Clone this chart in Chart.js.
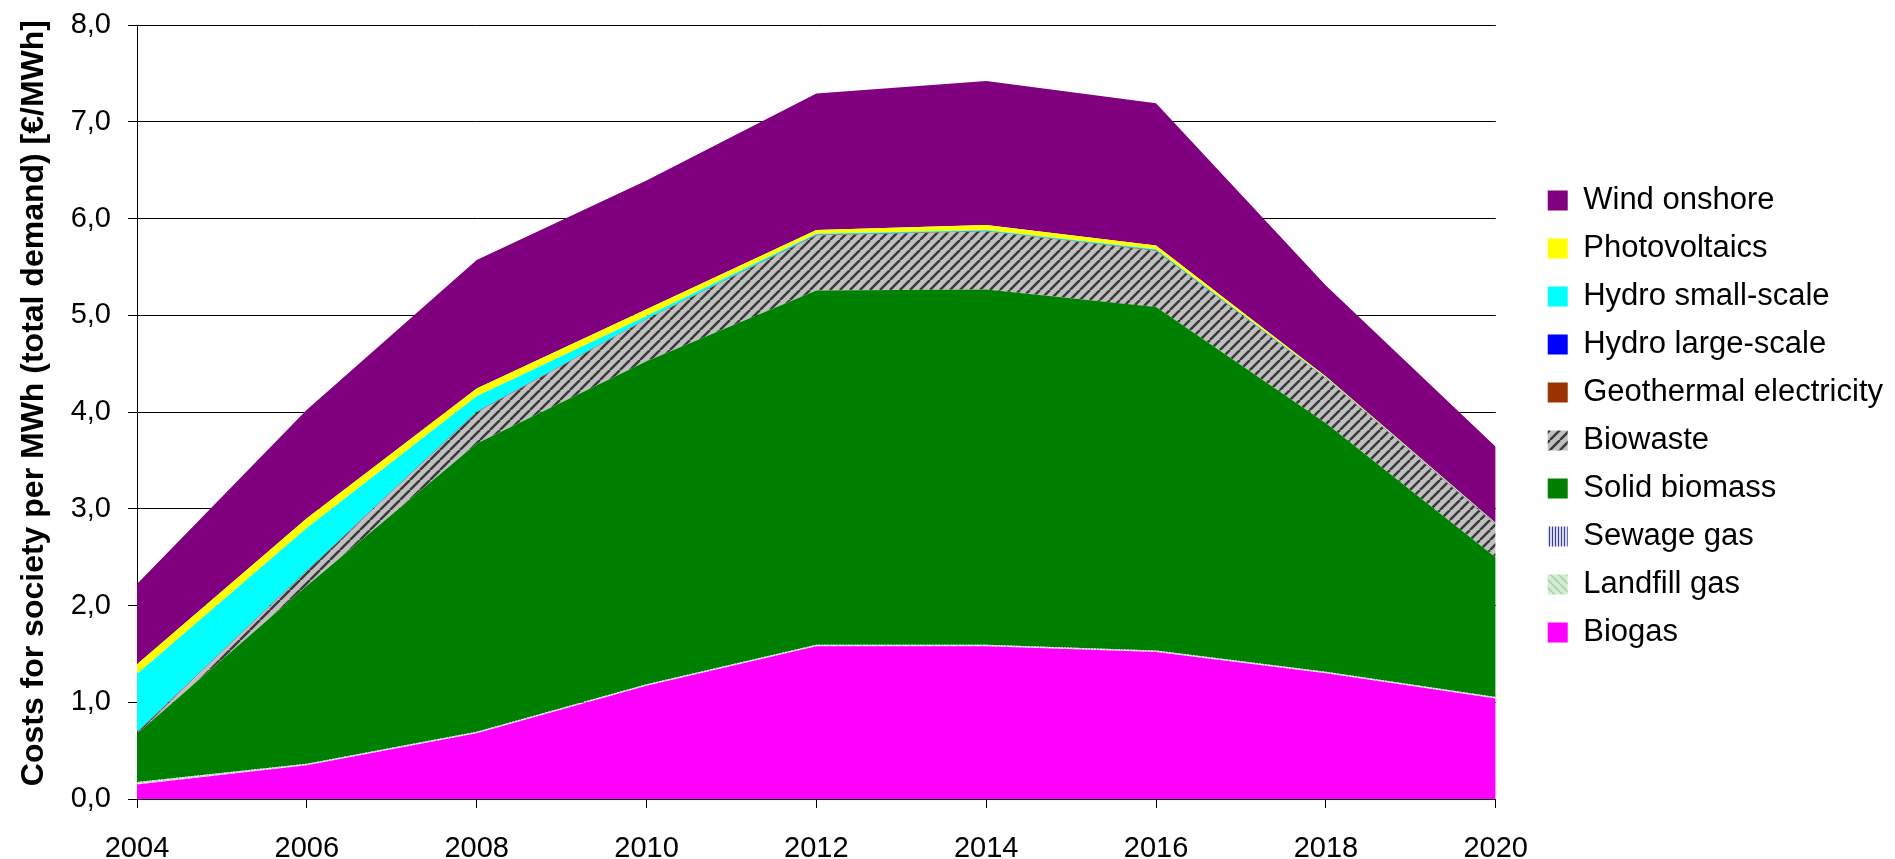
<!DOCTYPE html>
<html>
<head>
<meta charset="utf-8">
<script src="https://cdn.jsdelivr.net/npm/chart.js@4.4.0/dist/chart.umd.min.js"></script>
<style>
  body { margin: 0; background: #fff; }
</style>
</head>
<body>
<canvas id="myChart" width="1895" height="859"></canvas>
<script>
// Years on the x axis
var years = ['2004', '2006', '2008', '2010', '2012', '2014', '2016', '2018', '2020'];

// Values per technology (not cumulative)
var biogas       = [0.15, 0.35, 0.68, 1.17, 1.58, 1.58, 1.52, 1.30, 1.04];
var landfillGas  = [0.02, 0.01, 0.01, 0.01, 0.01, 0.01, 0.01, 0.01, 0.01];
var sewageGas    = [0.005, 0.005, 0.005, 0.005, 0.005, 0.005, 0.005, 0.005, 0.005];
var solidBiomass = [0.50, 1.84, 2.98, 3.34, 3.66, 3.67, 3.55, 2.57, 1.44];
var biowaste     = [0.01, 0.15, 0.32, 0.43, 0.57, 0.60, 0.58, 0.46, 0.34];
var geothermal   = [0.005, 0.005, 0.005, 0.005, 0.005, 0.005, 0.005, 0.005, 0.005];
var hydroLarge   = [0.002, 0.002, 0.002, 0.002, 0.002, 0.002, 0.002, 0.002, 0.002];
var hydroSmall   = [0.60, 0.44, 0.16, 0.03, 0.01, 0.01, 0.01, 0.005, 0.005];
var photovoltaic = [0.10, 0.10, 0.08, 0.07, 0.04, 0.05, 0.04, 0.01, 0.005];
var windOnshore  = [0.83, 1.12, 1.33, 1.33, 1.41, 1.49, 1.47, 0.94, 0.79];

var yTicks = [0, 1, 2, 3, 4, 5, 6, 7, 8];

// small striped patterns for the hatched series
function makeStripes(size, bg, fg, width, kind) {
  var c = document.createElement('canvas');
  c.width = size;
  c.height = size;
  var g = c.getContext('2d');
  g.fillStyle = bg;
  g.fillRect(0, 0, size, size);
  g.strokeStyle = fg;
  g.lineWidth = width;
  g.beginPath();
  if (kind === 'up') {
    for (var k = -1; k <= 1; k++) {
      g.moveTo(k * size, size);
      g.lineTo(k * size + size, 0);
    }
  } else if (kind === 'down') {
    for (var k = -1; k <= 1; k++) {
      g.moveTo(k * size, 0);
      g.lineTo(k * size + size, size);
    }
  } else {
    g.moveTo(size / 2, 0);
    g.lineTo(size / 2, size);
  }
  g.stroke();
  return g.createPattern(c, 'repeat');
}

var biowastePattern = makeStripes(10, '#c0c0c0', '#3a3a3a', 2.5, 'up');
var sewagePattern = makeStripes(3, '#d8d8f0', '#3c3c90', 1, 'vert');
var landfillPattern = makeStripes(8, '#c8f5c8', '#c4c4c4', 2, 'down');

function layer(label, data, color, i) {
  return {
    label: label,
    data: data,
    backgroundColor: color,
    borderColor: 'transparent',
    borderWidth: 0,
    pointRadius: 0,
    pointHoverRadius: 0,
    tension: 0,
    fill: i === 0 ? 'origin' : '-1'
  };
}

var font = "'Liberation Sans', Arial, sans-serif";

// the legend sits in the right padding and a bit higher, like in the original
var legendShift = {
  id: 'legendShift',
  afterLayout: function(chart) {
    chart.legend.left += 35;
    chart.legend.right += 35;
    chart.legend.top -= 13;
    chart.legend.bottom -= 13;
  }
};

var ctx = document.getElementById('myChart').getContext('2d');
var myChart = new Chart(ctx, {
  type: 'line',
  data: {
    labels: years,
    datasets: [
      layer('Biogas', biogas, '#ff00ff', 0),
      layer('Landfill gas', landfillGas, landfillPattern, 1),
      layer('Sewage gas', sewageGas, sewagePattern, 2),
      layer('Solid biomass', solidBiomass, '#008000', 3),
      layer('Biowaste', biowaste, biowastePattern, 4),
      layer('Geothermal electricity', geothermal, '#993300', 5),
      layer('Hydro large-scale', hydroLarge, '#0000ff', 6),
      layer('Hydro small-scale', hydroSmall, '#00ffff', 7),
      layer('Photovoltaics', photovoltaic, '#ffff00', 8),
      layer('Wind onshore', windOnshore, '#800080', 9)
    ]
  },
  plugins: [legendShift],
  options: {
    responsive: false,
    animation: false,
    layout: { padding: { top: 0, left: 0, bottom: 0, right: 37 } },
    plugins: {
      tooltip: { enabled: false },
      legend: {
        position: 'right',
        reverse: true,
        labels: {
          boxWidth: 20,
          boxHeight: 20,
          padding: 17,
          color: '#000',
          font: { family: font, size: 31 }
        }
      }
    },
    scales: {
      x: {
        type: 'category',
        offset: false,
        grid: { drawOnChartArea: false, drawTicks: true, tickLength: 9, color: '#000' },
        border: { color: '#000' },
        ticks: {
          color: '#000',
          padding: 24,
          maxRotation: 0,
          autoSkip: false,
          font: { family: font, size: 29 }
        },
        afterFit: function(scale) {
          scale.height = 60;
        }
      },
      y: {
        stacked: true,
        min: 0,
        max: 8,
        afterBuildTicks: function(scale) {
          scale.ticks = yTicks.map(function(v) { return { value: v }; });
        },
        grid: { color: '#000', tickLength: 9 },
        border: { color: '#000' },
        ticks: {
          color: '#000',
          padding: 17,
          font: { family: font, size: 29 },
          callback: function(v) { return v.toFixed(1).replace('.', ','); }
        },
        title: {
          display: true,
          // two leading spaces lift the title a little, as in the original
          text: '  Costs for society per MWh (total demand) [€/MWh]',
          color: '#000',
          padding: { top: 15, bottom: 0 },
          font: { family: font, size: 32, weight: 'bold' }
        },
        afterFit: function(scale) {
          scale.width = 137;
          scale.paddingTop = 25;
        }
      }
    }
  }
});
</script>
</body>
</html>
